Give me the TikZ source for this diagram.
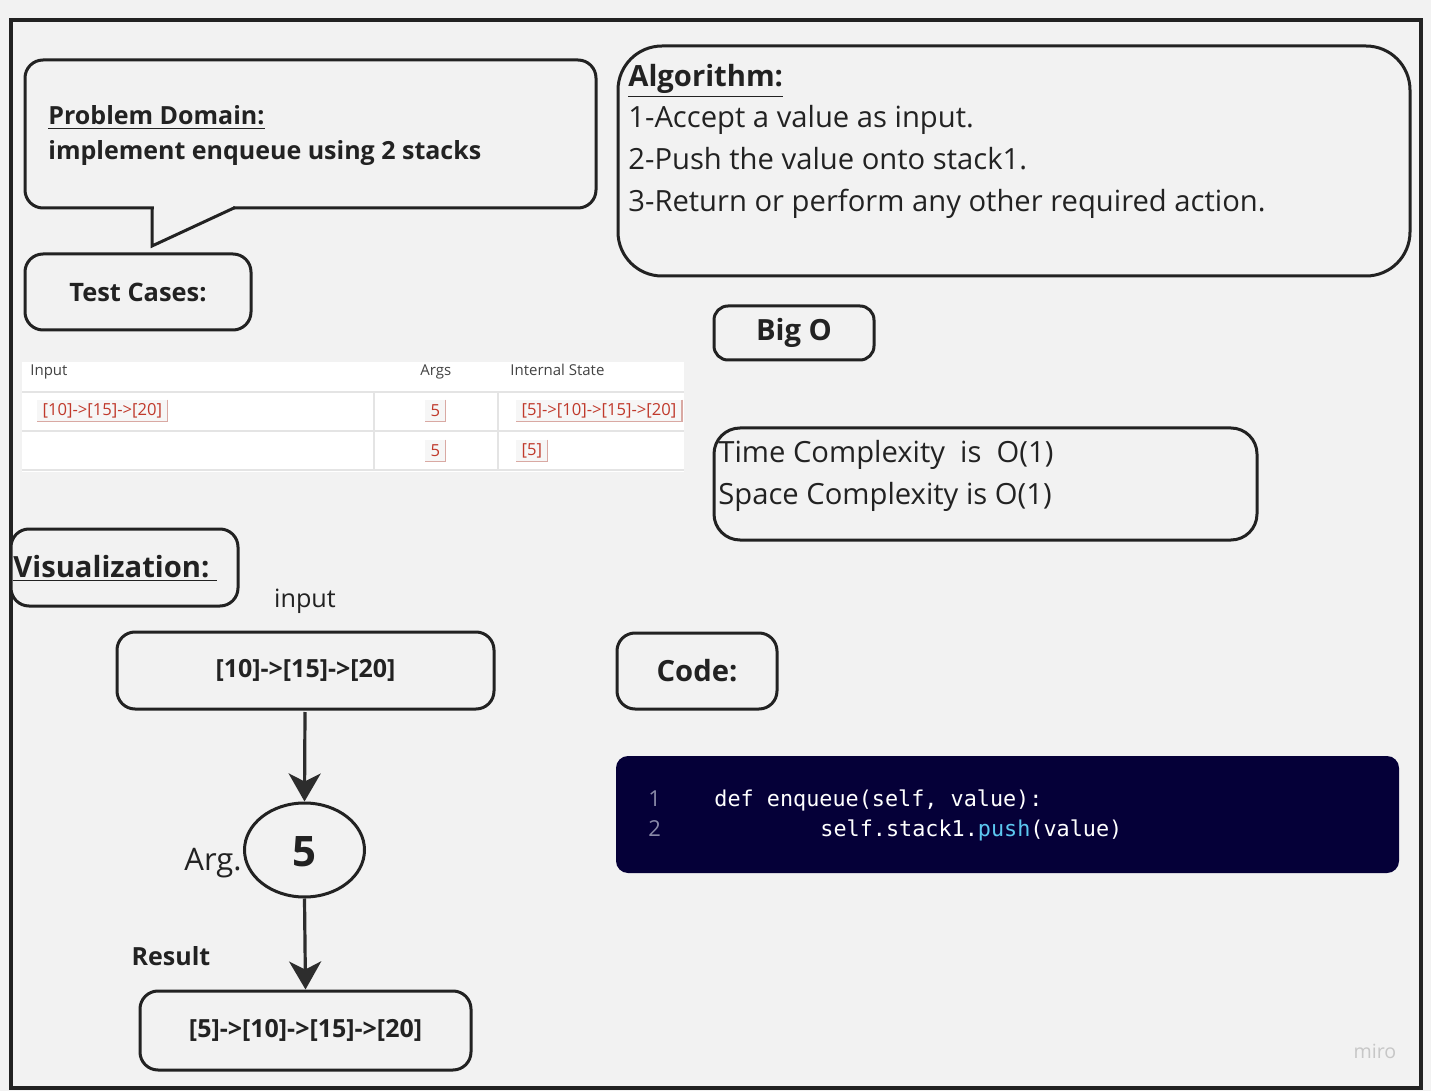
\documentclass[tikz,border=0pt]{standalone}
\usepackage{fontspec}
\setmainfont{Open Sans}
\setmonofont{DejaVu Sans Mono}
\usetikzlibrary{arrows.meta,shapes.geometric}
\definecolor{bg}{HTML}{F2F2F2}
\definecolor{ink}{HTML}{222222}
\definecolor{codebg}{HTML}{050038}
\definecolor{badgered}{HTML}{C0392B}
\definecolor{badgeedge}{HTML}{D9A9A3}
\definecolor{badgefill}{HTML}{F6F6F6}
\definecolor{lineno}{HTML}{8A8AA8}
\definecolor{pushblue}{HTML}{5CC8F0}
\definecolor{rulegray}{HTML}{E4E4E4}
\begin{document}
\begin{tikzpicture}[x=0.5pt,y=-0.5pt,
  box/.style={draw=ink, line width=1.5pt, rounded corners=9pt, fill=bg, inner sep=0pt},
  lbl/.style={inner sep=0pt, text=ink},
  badge/.style={fill=badgefill, text=badgered, inner xsep=2.6pt, inner ysep=0pt, font=\fontsize{8.3}{9}\selectfont, minimum height=10.5pt, anchor=west},
  thh/.style={inner sep=0pt, text=ink!85, font=\fontsize{7.5}{8}\selectfont, anchor=base west},
  arr/.style={draw=ink!95, line width=1.6pt, -{Stealth[length=14pt,width=16pt,inset=4pt]}},
  alg/.style={lbl, anchor=base west, font=\fontsize{14.6}{16}\selectfont},
  h14/.style={lbl, font=\bfseries\fontsize{14.6}{16}\selectfont},
  b12/.style={lbl, font=\bfseries\fontsize{12.5}{14}\selectfont},
]
\useasboundingbox (0,0) rectangle (1431,1091);
\fill[bg] (0,0) rectangle (1431,1091);
\draw[ink, line width=1.6pt] (11,20) rectangle (1421,1088);

% problem domain speech bubble
\node[box, minimum width=285.5pt, minimum height=74pt] (pd) at (310.5,134) {};
\fill[bg] (153.5,206) rectangle (233,210);
\draw[ink, line width=1.5pt, line join=miter] (152,207.5) -- (152,246) -- (235,207.5);
\node[b12, anchor=base west] (pdt) at (48,125) {\underline{Problem Domain:}};
\node[b12, anchor=base west] (pdb) at (48,160) {implement enqueue using 2 stacks};

% test cases
\node[box, minimum width=113pt, minimum height=38pt] (tc) at (138,292) {};
\node[lbl, font=\bfseries\fontsize{12.7}{14}\selectfont] (tct) at (138,292) {Test Cases:};

% table
\fill[white] (22,362) rectangle (684,472);
\draw[rulegray, line width=0.6pt] (22,392) -- (684,392);
\draw[rulegray, line width=0.6pt] (22,431) -- (684,431);
\draw[rulegray, line width=1pt] (22,470) -- (684,470);
\draw[rulegray, line width=0.6pt] (374,392) -- (374,470);
\draw[rulegray, line width=0.6pt] (498,392) -- (498,470);
\node[thh] (th1) at (30,376) {Input};
\node[thh] (th2) at (420,376) {Args};
\node[thh] (th3) at (510,376) {Internal State};
\node[badge] (b1) at (37,410.5) {[10]->[15]->[20]};
\draw[badgeedge, line width=0.8pt] (b1.north east) -- (b1.south east) -- (b1.south west);
\node[badge] (b2) at (425,410.5) {5};
\draw[badgeedge, line width=0.8pt] (b2.north east) -- (b2.south east) -- (b2.south west);
\node[badge] (b3) at (516,410.5) {[5]->[10]->[15]->[20]};
\draw[badgeedge, line width=0.8pt] (b3.north east) -- (b3.south east) -- (b3.south west);
\node[badge] (b4) at (425,450.5) {5};
\draw[badgeedge, line width=0.8pt] (b4.north east) -- (b4.south east) -- (b4.south west);
\node[badge] (b5) at (516,450.5) {[5]};
\draw[badgeedge, line width=0.8pt] (b5.north east) -- (b5.south east) -- (b5.south west);

% algorithm
\node[box, rounded corners=22pt, minimum width=396pt, minimum height=115pt] (al) at (1014,161) {};
\node[h14, anchor=base west] (alt) at (628,87) {\underline{Algorithm:}};
\node[alg] (a1) at (628,128) {1-Accept a value as input.};
\node[alg] (a2) at (628,170) {2-Push the value onto stack1.};
\node[alg] (a3) at (628,212) {3-Return or perform any other required action.};

% big O
\node[box, rounded corners=7pt, minimum width=80pt, minimum height=27pt] (bo) at (794,333) {};
\node[h14] (bot) at (794,333) {Big O};

% complexity
\node[box, rounded corners=13pt, minimum width=271.5pt, minimum height=56pt] (cx) at (985.5,484) {};
\node[alg] (c1) at (718,462) {Time Complexity\ \ is\ \ O(1)};
\node[alg] (c2) at (718,504) {Space Complexity is O(1)};

% visualization
\node[box, minimum width=113.5pt, minimum height=38.5pt] (vz) at (124.5,567.5) {};
\node[h14, anchor=base west] (vzt) at (13,577) {\underline{Visualization:\ }};

\node[lbl, anchor=base, font=\fontsize{12.6}{14}\selectfont] (inp) at (305,607) {input};

\node[box, minimum width=188.5pt, minimum height=38.5pt] (ib) at (305.5,670.5) {};
\node[b12] (ibt) at (305.5,670.5) {[10]->[15]->[20]};

\node[draw=ink, line width=1.5pt, ellipse, fill=bg, minimum width=60pt, minimum height=47pt, inner sep=0pt] (c5) at (304.5,850) {};
\node[lbl, font=\bfseries\fontsize{21}{24}\selectfont] (c5t) at (304.5,852) {5};
\node[lbl, anchor=base east, font=\fontsize{15.5}{17}\selectfont] (arg) at (242,870) {Arg.};

\node[b12, anchor=base] (res) at (171,965) {Result};

\node[box, minimum width=165.5pt, minimum height=39.5pt] (rb) at (305.5,1030.5) {};
\node[b12] (rbt) at (305.5,1030.5) {[5]->[10]->[15]->[20]};

\draw[arr] (305,712) -- (c5.north);
\draw[arr] (c5.south) -- (rb.north);

% code
\node[box, minimum width=80pt, minimum height=38pt] (cd) at (697,671) {};
\node[h14] (cdt) at (697,671) {Code:};

\node[fill=codebg, rounded corners=6pt, minimum width=391.5pt, minimum height=58.5pt, inner sep=0pt] (cb) at (1007.5,814.5) {};
\node[inner sep=0pt, anchor=base west, text=lineno, font=\fontsize{11}{13}\selectfont] (n1) at (648,806) {1};
\node[inner sep=0pt, anchor=base west, text=lineno, font=\fontsize{11}{13}\selectfont] (n2) at (648,836) {2};
\node[inner sep=0pt, anchor=base west, text=white, font=\ttfamily\fontsize{10.9}{13}\selectfont] (l1) at (714,806) {def enqueue(self, value):};
\node[inner sep=0pt, anchor=base west, text=white, font=\ttfamily\fontsize{10.9}{13}\selectfont] (l2) at (820,836) {self.stack1.\textcolor{pushblue}{push}(value)};

% watermark
\node[inner sep=0pt, text=black!22, font=\fontsize{9.8}{11}\selectfont] (miro) at (1375,1051) {miro};
\end{tikzpicture}
\end{document}
